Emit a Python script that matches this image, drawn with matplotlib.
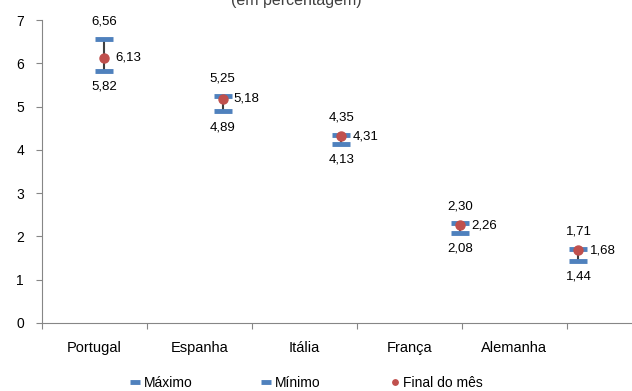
import numpy as np
import matplotlib.pyplot as plt

# dados (em percentagem)
paises = ["Portugal", "Espanha", "Itália", "França", "Alemanha"]
maximo = [6.56, 5.25, 4.35, 2.30, 1.71]
minimo = [5.82, 4.89, 4.13, 2.08, 1.44]
final_mes = [6.13, 5.18, 4.31, 2.26, 1.68]

azul = "#4F81BD"
vermelho = "#C0504D"
cinza = "#868686"

plt.rcParams['font.family'] = ['Liberation Sans', 'DejaVu Sans']

fig = plt.figure(figsize=(6.32, 3.91), dpi=100)
ax = fig.add_axes([42/632, 1-323/391, 590/632, 303/391])

n = len(paises)
# pontos ficam desfasados das categorias (eixo secundario no original)
xs = 0.59 + 1.13*np.arange(n)

ax.vlines(xs, minimo, maximo, color="#404040", lw=1.5, zorder=1)
ax.plot(xs, maximo, ls="none", marker="_", ms=13, mew=3.5, color=azul, label="Máximo", zorder=2)
ax.plot(xs, minimo, ls="none", marker="_", ms=13, mew=3.5, color=azul, label="Mínimo", zorder=2)
ax.plot(xs, final_mes, ls="none", marker="o", ms=6.5, color=vermelho, label="Final do mês", zorder=3)

def fmt(v):
    return ("%.2f" % v).replace(".", ",")

for x, hi, lo, f in zip(xs, maximo, minimo, final_mes):
    ax.annotate(fmt(hi), (x, hi), xytext=(0, 8), textcoords="offset points",
                ha="center", va="bottom", fontsize=9.5)
    ax.annotate(fmt(lo), (x, lo), xytext=(0, -7), textcoords="offset points",
                ha="center", va="top", fontsize=9.5)
    ax.annotate(fmt(f), (x, f), xytext=(8, 0), textcoords="offset points",
                ha="left", va="center", fontsize=9.5)

ax.set_xlim(0, 5.62)
ax.set_ylim(0, 7)
ax.set_yticks(range(8))
ax.set_xticks(np.arange(n+1))
ax.set_xticklabels([])
ax.set_xticks(np.arange(n) + 0.5, minor=True)
ax.set_xticklabels(paises, minor=True, fontsize=10.5)
ax.tick_params(axis="x", which="minor", length=0, pad=13)
ax.tick_params(axis="x", which="major", length=4, color=cinza)
ax.tick_params(axis="y", length=4, color=cinza, labelsize=10, pad=9)
for s in ["top", "right"]:
    ax.spines[s].set_visible(False)
for s in ["left", "bottom"]:
    ax.spines[s].set_color(cinza)

fig.text(296/632, 1.0, "(em percentagem)", ha="center", va="center", fontsize=11.5, color="#404040")

fig.legend(loc="lower center", bbox_to_anchor=(0.485, -0.03), ncol=3, frameon=False,
           fontsize=10, columnspacing=5.0, handlelength=0.7, handletextpad=0.25,
           markerscale=0.6)

fig.savefig("out.png", dpi=100)
